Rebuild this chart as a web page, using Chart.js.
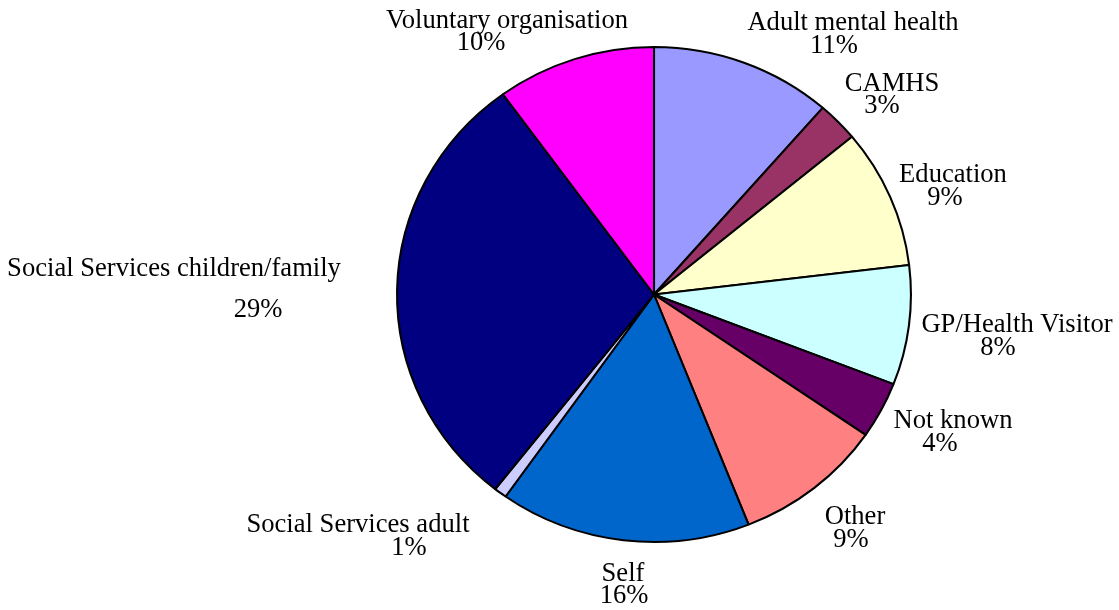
<!DOCTYPE html>
<html>
<head>
<meta charset="utf-8">
<title>Referral sources</title>
<script src="https://cdn.jsdelivr.net/npm/chart.js@4/dist/chart.umd.min.js"></script>
<style>
    html, body { margin: 0; padding: 0; background: #fff; }
    #pie { display: block; }
</style>
</head>
<body>
<canvas id="pie" width="1119" height="610"></canvas>
<script>
    // data, clockwise from 12 o'clock
    var categories = ["Adult mental health", "CAMHS", "Education", "GP/Health Visitor", "Not known",
        "Other", "Self", "Social Services adult", "Social Services children/family", "Voluntary organisation"];
    var shares = [11.4, 2.6, 9.1, 7.8, 3.7, 9.4, 15.8, 0.8, 29.4, 10.0];
    var sliceColors = ["#9999FF", "#993366", "#FFFFCC", "#CCFFFF", "#660066",
        "#FF8080", "#0066CC", "#CCCCFF", "#000080", "#FF00FF"];

    // where each label sits: centre x and baseline of name line, then of % line
    var labelSpots = [
        [853, 30, 834, 53],
        [892, 91, 882, 113],
        [953, 182, 945, 205],
        [1017, 332, 998, 355],
        [953, 428, 940, 451],
        [855, 524, 851, 547],
        [623, 581, 624, 603],
        [358, 532, 409, 555],
        [174, 276, 258, 317],
        [507, 28, 481, 50]
    ];

    // the original pie is a bit wider than tall
    var stretchX = 258 / 248.5;

    var ellipsePlugin = {
        id: 'ellipse',
        beforeDatasetsDraw: function(chart) {
            var arc = chart.getDatasetMeta(0).data[0];
            var ctx = chart.ctx;
            ctx.save();
            ctx.translate(arc.x, arc.y);
            ctx.scale(stretchX, 1);
            ctx.translate(-arc.x, -arc.y);
        },
        afterDatasetsDraw: function(chart) {
            chart.ctx.restore();
        }
    };

    var labelPlugin = {
        id: 'sliceLabels',
        afterDraw: function(chart) {
            var ctx = chart.ctx;
            ctx.save();
            ctx.fillStyle = '#000';
            ctx.font = '26.6px "Liberation Serif", "Times New Roman", serif';
            ctx.textAlign = 'center';
            ctx.textBaseline = 'alphabetic';
            chart.data.labels.forEach(function(name, i) {
                var s = labelSpots[i];
                var v = chart.data.datasets[0].data[i];
                ctx.fillText(name, s[0], s[1]);
                ctx.fillText(Math.round(v) + '%', s[2], s[3]);
            });
            ctx.restore();
        }
    };

    new Chart(document.getElementById('pie'), {
        type: 'pie',
        data: {
            labels: categories,
            datasets: [{
                data: shares,
                backgroundColor: sliceColors,
                borderColor: '#000',
                borderWidth: 2
            }]
        },
        options: {
            responsive: false,
            animation: false,
            layout: {
                padding: { top: 46, bottom: 67, left: 405.5, right: 216.5 }
            },
            plugins: {
                legend: { display: false },
                tooltip: { enabled: false }
            }
        },
        plugins: [ellipsePlugin, labelPlugin]
    });
</script>
</body>
</html>
